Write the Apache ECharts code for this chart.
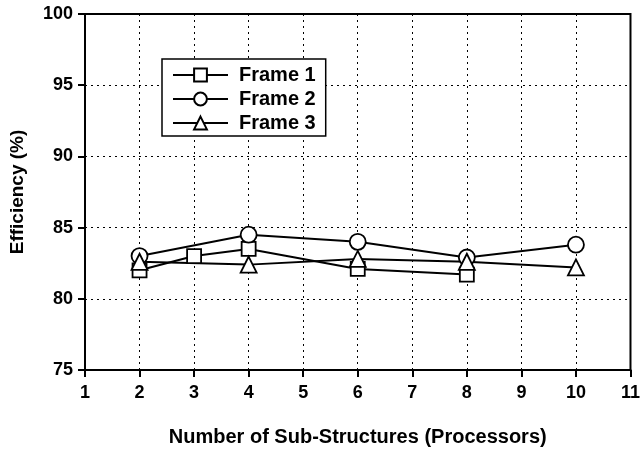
<!DOCTYPE html>
<html>
<head>
<meta charset="utf-8">
<script src="https://cdn.jsdelivr.net/npm/echarts@6/dist/echarts.min.js"></script>
<style>
  html, body { margin: 0; padding: 0; background: #fff; }
  #chart { width: 643px; height: 452px; }
</style>
</head>
<body>
<div id="chart"></div>
<script>
// values
var frame1X = [2, 3, 4, 6, 8];
var frame1Y = [82.0, 83.0, 83.5, 82.1, 81.7];
var frame2X = [2, 4, 6, 8, 10];
var frame2Y = [83.0, 84.5, 84.0, 82.9, 83.8];
var frame3X = [2, 4, 6, 8, 10];
var frame3Y = [82.6, 82.4, 82.8, 82.6, 82.2];
var seriesNames = ['Frame 1', 'Frame 2', 'Frame 3'];

function pairs(xs, ys) {
    return xs.map(function (x, i) { return [x, ys[i]]; });
}

var font = 'Liberation Sans, Arial, sans-serif';

function makeSeries(name, xs, ys, symbol, size) {
    return {
        name: name,
        type: 'line',
        data: pairs(xs, ys),
        symbol: symbol,
        symbolSize: size,
        showAllSymbol: true,
        lineStyle: { color: '#000', width: 2 },
        itemStyle: { color: '#fff', borderColor: '#000', borderWidth: 1.8 },
        emphasis: { disabled: true },
        z: 3
    };
}

var myChart = echarts.init(document.getElementById('chart'));
var option = {
    animation: false,
    grid: {
        left: 82, right: 7, top: 14, bottom: 80,
        show: true, borderColor: '#000', borderWidth: 2, backgroundColor: 'transparent'
    },
    legend: {
        data: seriesNames,
        orient: 'vertical',
        left: 162, top: 59,
        itemWidth: 55, itemHeight: 16, itemGap: 4,
        padding: [6, 10, 3, 10],
        borderColor: '#000', borderWidth: 1.5,
        backgroundColor: '#fff',
        textStyle: { fontFamily: font, fontWeight: 'bold', fontSize: 20, color: '#000', padding: [0, 0, 0, 6] }
    },
    xAxis: {
        type: 'value', min: 1, max: 11, interval: 1,
        name: 'Number of Sub-Structures (Processors)',
        nameLocation: 'middle', nameGap: 57,
        nameTextStyle: { fontFamily: font, fontWeight: 'bold', fontSize: 20, color: '#000' },
        axisLine: { show: true, lineStyle: { color: '#000', width: 2 } },
        axisTick: { show: true, inside: false, length: 7, lineStyle: { color: '#000', width: 2 } },
        axisLabel: { fontFamily: font, fontWeight: 'bold', fontSize: 18, color: '#000', margin: 14 },
        splitLine: { show: true, lineStyle: { color: '#000', type: [2, 4], width: 1 } }
    },
    yAxis: {
        type: 'value', min: 75, max: 100, interval: 5,
        name: 'Efficiency (%)',
        nameLocation: 'middle', nameGap: 58, nameRotate: 90,
        nameTextStyle: { fontFamily: font, fontWeight: 'bold', fontSize: 19, color: '#000' },
        axisLine: { show: true, lineStyle: { color: '#000', width: 2 } },
        axisTick: { show: true, inside: false, length: 7, lineStyle: { color: '#000', width: 2 } },
        axisLabel: { fontFamily: font, fontWeight: 'bold', fontSize: 18, color: '#000', margin: 12 },
        splitLine: { show: true, lineStyle: { color: '#000', type: [2, 4], width: 1 } }
    },
    series: [
        makeSeries(seriesNames[0], frame1X, frame1Y, 'rect', 14),
        makeSeries(seriesNames[1], frame2X, frame2Y, 'circle', 16),
        makeSeries(seriesNames[2], frame3X, frame3Y, 'triangle', 16)
    ]
};
myChart.setOption(option);
</script>
</body>
</html>
